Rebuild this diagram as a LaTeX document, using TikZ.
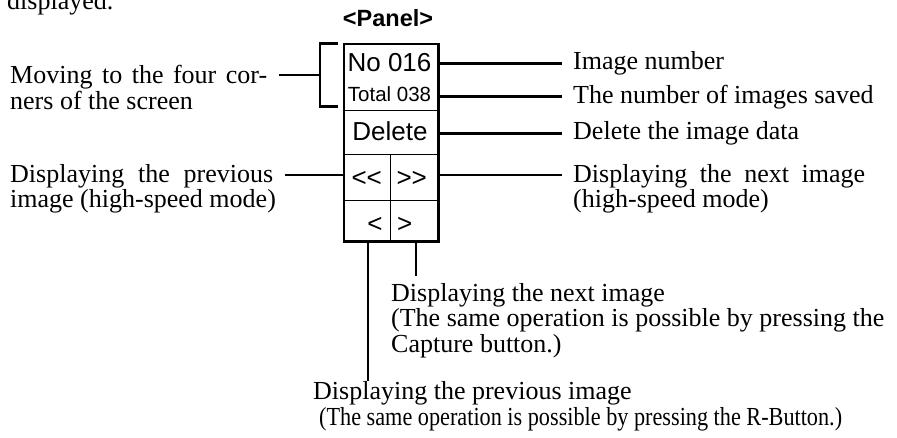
\documentclass[tikz,border=0pt]{standalone}
\usepackage{fontspec}
\usepackage{graphicx}
\setmainfont{Liberation Serif}
\newfontfamily\hsans{Liberation Sans}
\begin{document}
\begin{tikzpicture}[x=1pt,y=-1pt,
  lbl/.style={font=\fontsize{26}{26}\selectfont, inner sep=0pt, anchor=base west},
  cell/.style={font=\hsans\fontsize{26}{26}\selectfont, inner sep=0pt},
  conn/.style={line width=2.5pt},
  frame/.style={draw, line width=2.5pt, inner sep=0pt},
  grid/.style={line width=1pt}]
\useasboundingbox (0,0) rectangle (897,437);

% partial text at the top edge
\node[lbl] (disp) at (7,9) {displayed.};

% title
\node[font=\hsans\bfseries\fontsize{23.5}{24}\selectfont, inner sep=0pt, anchor=base] (title) at (388,26) {<Panel>};

% panel frame
\node[frame, minimum width=94.5pt, minimum height=197.5pt, anchor=north west] (panel) at (342.5,42.5) {};
\coordinate (r1) at (0,110);
\coordinate (r2) at (0,154);
\coordinate (r3) at (0,200);
\coordinate (mid) at (390,0);
\draw[grid] (panel.west |- r1) -- (panel.east |- r1);
\draw[grid] (panel.west |- r2) -- (panel.east |- r2);
\draw[grid] (panel.west |- r3) -- (panel.east |- r3);
\draw[grid] (mid |- r2) -- (mid |- panel.south);

% cell texts
\node[cell, anchor=base] (no) at (389.5,71) {No 016};
\node[cell, anchor=base, font=\hsans\fontsize{20.5}{21}\selectfont] (total) at (389.5,101.7) {Total 038};
\node[cell, anchor=base] (del) at (390,140) {Delete};
\node[cell] (ff) at (366.7,179.4) {<<};
\node[cell] (fr) at (411.7,179.4) {>>};
\node[cell] (bk) at (375,224.5) {<};
\node[cell] (fw) at (404.7,224.5) {>};

% right labels
\node[lbl] (imgnum) at (573,69.5) {Image number};
\node[lbl] (saved) at (573,103) {The number of images saved};
\node[lbl] (deldata) at (573,139.5) {Delete the image data};
\node[lbl] (nexta) at (573,182) {\makebox[292pt][s]{Displaying the next image}};
\node[lbl] (nextb) at (573,207.5) {(high-speed mode)};

% left labels
\node[lbl] (mova) at (10,83.5) {\makebox[257pt][s]{Moving to the four cor-}};
\node[lbl] (movb) at (10,109) {ners of the screen};
\node[lbl] (preva) at (10,182) {\makebox[263pt][s]{Displaying the previous}};
\node[lbl] (prevb) at (10,207.5) {image (high-speed mode)};

% bottom labels
\node[lbl] (nbA) at (391,301) {Displaying the next image};
\node[lbl] (nbB) at (391,326.5) {(The same operation is possible by pressing the};
\node[lbl] (nbC) at (391,352) {Capture button.)};
\node[lbl] (pbA) at (313,399) {Displaying the previous image};
\node[lbl] (pbB) at (319,425) {\scalebox{0.855}[1]{(The same operation is possible by pressing the R-Button.)}};

% connector levels
\coordinate (yNo) at (0,63.3);
\coordinate (yTot) at (0,96.7);
\coordinate (yDel) at (0,133.3);
\coordinate (yFF) at (0,175);
\coordinate (rEnd) at (562,0);

\draw[conn] (panel.east |- yNo) -- (rEnd |- yNo);
\draw[conn] (panel.east |- yTot) -- (rEnd |- yTot);
\draw[conn] (panel.east |- yDel) -- (rEnd |- yDel);
\draw[conn] (panel.east |- yFF) -- (rEnd |- yFF);

\coordinate (lEnd) at (285,175);
\draw[conn] (lEnd) -- (panel.west |- lEnd);

% bracket for the top block
\coordinate (bt) at (338,43.3);
\coordinate (bb) at (338,106.7);
\coordinate (bx) at (320,75);
\coordinate (mEnd) at (279,75);
\draw[conn] (bt) -- (bx |- bt) -- (bx |- bb) -- (bb);
\draw[conn] (mEnd) -- (bx);

% bottom leaders
\coordinate (pTip) at (368,381);
\coordinate (nTip) at (416,276);
\draw[conn] (pTip |- panel.south) -- (pTip);
\draw[conn] (nTip |- panel.south) -- (nTip);
\end{tikzpicture}
\end{document}
